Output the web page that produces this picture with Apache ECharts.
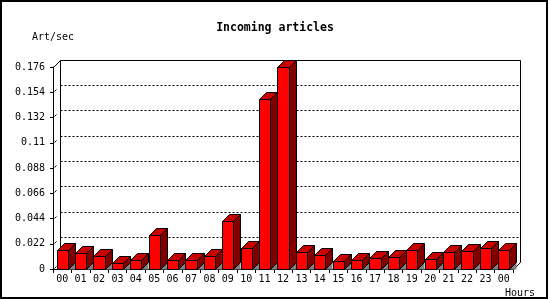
<!DOCTYPE html>
<html>
<head>
<meta charset="utf-8">
<script src="https://cdn.jsdelivr.net/npm/echarts@6/dist/echarts.min.js"></script>
<style>html,body{margin:0;padding:0;background:#fff}#c{width:550px;height:300px}</style>
</head>
<body>
<div id="c"></div>
<script>
const categories = ['00','01','02','03','04','05','06','07','08','09','10','11','12','13','14','15','16','17','18','19','20','21','22','23','00'];
const articles = [0.0166,0.0137,0.0110,0.0050,0.0076,0.0296,0.0076,0.0076,0.0110,0.0418,0.0183,0.1480,0.1759,0.0145,0.0119,0.0067,0.0076,0.0093,0.0102,0.0163,0.0085,0.0145,0.0154,0.0180,0.0163];
const yTickLabels = ['0','0.022','0.044','0.066','0.088','0.11','0.132','0.154','0.176'];
const yTickValues = [0,0.022,0.044,0.066,0.088,0.11,0.132,0.154,0.176];

const FONT = 'DejaVu Sans Mono';
const D = 7;
const chart = echarts.init(document.getElementById('c'), null, {renderer:'canvas'});

function px(v){ return Math.round(v) + 0.5; }

function renderFrame(params, api){
  const cs = params.coordSys;
  const L = px(cs.x), R = px(cs.x + cs.width), T = px(cs.y), B = px(cs.y + cs.height);
  const ls = {stroke:'#000', lineWidth:1};
  const children = [];
  children.push({type:'polyline', shape:{points:[[L+D,B-D],[L+D,T-D],[R+D,T-D],[R+D,B-D]]}, style:Object.assign({fill:null},ls)});
  children.push({type:'line', shape:{x1:L,y1:T,x2:L+D,y2:T-D}, style:ls});
  children.push({type:'line', shape:{x1:R,y1:B,x2:R+D,y2:B-D}, style:ls});
  for (let k = 0; k < yTickValues.length; k++){
    const v = yTickValues[k];
    const y = px(api.coord([0, v])[1]);
    if (k > 0 && k < yTickValues.length - 1){
      children.push({type:'line', shape:{x1:L+D, y1:y-D, x2:R+D, y2:y-D}, style:{stroke:'#000', lineWidth:1, lineDash:[2,2]}});
    }
    if (k < yTickValues.length - 1){
      children.push({type:'line', shape:{x1:L+1, y1:y-1, x2:L+3, y2:y-3}, style:ls});
    }
  }
  return {type:'group', children:children};
}

function renderBar(params, api){
  const i = api.value(0), v = api.value(1);
  const top = api.coord([i, v]);
  const base = api.coord([i, 0]);
  const bw = api.size([1, 0])[0] * 0.6;
  const x0 = px(top[0] - bw/2), x1 = px(top[0] + bw/2);
  const yT = px(top[1]), yB = px(base[1]);
  const ls = {stroke:'#000', lineWidth:1};
  return {type:'group', children:[
    {type:'polygon', shape:{points:[[x1,yB],[x1+D,yB-D],[x1+D,yB]]}, style:{fill:'#808080'}},
    {type:'polygon', shape:{points:[[x1,yB],[x1,yT],[x1+D,yT-D],[x1+D,yB-D]]}, style:Object.assign({fill:'#800000'},ls)},
    {type:'polygon', shape:{points:[[x0,yT],[x0+D,yT-D],[x1+D,yT-D],[x1,yT]]}, style:Object.assign({fill:'#c80000'},ls)},
    {type:'rect', shape:{x:x0, y:yT, width:x1-x0, height:yB-yT}, style:Object.assign({fill:'#ff0000'},ls)}
  ]};
}

const option = {
  animation:false,
  backgroundColor:'#fff',
  title:{text:'Incoming articles', left:'center', top:17,
    textStyle:{fontFamily:FONT, fontSize:11.5, fontWeight:'bold', color:'#000'}},
  grid:{left:53, right:37, top:67, bottom:31, containLabel:false},
  xAxis:{type:'category', data:categories, boundaryGap:true,
    name:'Hours', nameLocation:'end', nameGap:-8,
    nameTextStyle:{fontFamily:FONT, fontSize:10, color:'#000', align:'left', verticalAlign:'top', padding:[19,0,0,0]},
    axisLine:{show:true, lineStyle:{color:'#000', width:1}},
    axisTick:{show:true, length:4, interval:0, lineStyle:{color:'#000'}},
    axisLabel:{interval:0, margin:5, fontFamily:FONT, fontSize:10, color:'#000'},
    splitLine:{show:false}},
  yAxis:{type:'value', min:0, max:0.176, interval:0.022,
    name:'Art/sec', nameLocation:'end', nameGap:30,
    nameTextStyle:{fontFamily:FONT, fontSize:10, color:'#000', align:'center', verticalAlign:'middle'},
    axisLine:{show:true, lineStyle:{color:'#000', width:1}},
    axisTick:{show:true, length:3, lineStyle:{color:'#000'}},
    axisLabel:{margin:8, fontFamily:FONT, fontSize:10, color:'#000',
      formatter:function(v, idx){ return yTickLabels[idx] !== undefined ? yTickLabels[idx] : String(v); }},
    splitLine:{show:false}},
  graphic:[{type:'rect', shape:{x:1, y:1, width:546, height:297}, style:{fill:null, stroke:'#000', lineWidth:2}, z:100}],
  series:[
    {type:'custom', z:1, renderItem:renderFrame, data:[[0,0]], silent:true, clip:false},
    {type:'custom', z:2, renderItem:renderBar, data:articles.map((v,i)=>[i,v]), encode:{x:0,y:1}, silent:true, clip:false}
  ]
};
chart.setOption(option);
</script>
</body>
</html>
